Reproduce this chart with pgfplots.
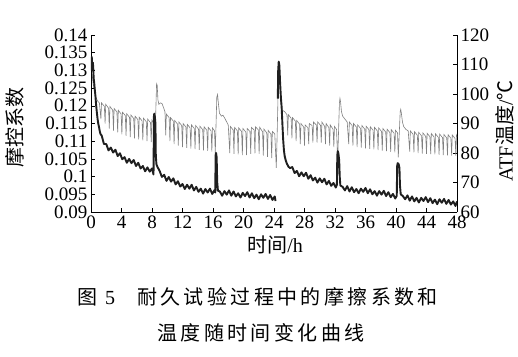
\documentclass[border=0pt]{standalone}
\usepackage{pgfplots}
\pgfplotsset{compat=1.18}
\usepackage{fontspec}
\setmainfont{Liberation Serif}
\newfontfamily\cjk{Noto Sans CJK SC}
\newfontfamily\cjkcap[LetterSpace=17]{Noto Sans CJK SC}
\begin{document}
\begin{tikzpicture}
\pgfplotsset{
  common/.style={
    scale only axis, width=366pt, height=177pt,
    xmin=0, xmax=48,
    /pgf/number format/assume math mode=true,
    tick label style={font=\fontsize{19}{19}\selectfont},
    label style={font=\fontsize{20}{20}\selectfont},
    axis line style={-, line width=0.7pt},
    tick style={black, line width=0.6pt},
    major tick length=4pt,
    tick align=inside,
  }
}
% temperature axis (right)
\begin{axis}[common,
  axis x line=none, axis y line*=right,
  ymin=60, ymax=120, ytick={60,70,...,120},
  ylabel={ATF{\cjk 温度}/{\cjk ℃}},
  ylabel style={at={(axis description cs:1.131,0.458)}, anchor=center},
]
\addplot[black!50, line width=0.6pt] coordinates {
(0.15,107) (0.25,104) (0.35,102.5) (0.5,100.5) (0.7,98.5) (0.9,97.5) (1.1,97)
(1.3,91.5) (1.38,97) (1.75,95.8)
(1.85,90) (1.93,96.5) (2.3,95.2)
(2.4,88.3) (2.48,95.8) (2.85,94.5)
(2.95,87.6) (3.03,95.1) (3.4,93.9)
(3.5,87) (3.58,94.5) (3.95,93.2)
(4.05,86.3) (4.13,93.8) (4.5,92.7)
(4.6,85.8) (4.68,93.3) (5.05,92.1)
(5.15,85.4) (5.23,92.9) (5.6,91.7)
(5.7,85) (5.78,92.5) (6.15,91.3)
(6.25,84.6) (6.33,92.1) (6.7,90.9)
(6.8,84.3) (6.88,91.8) (7.25,90.6)
(7.35,84) (7.43,91.5) (7.8,90.3)
(7.9,83.7) (7.98,91.2) (8.25,90)
(8.35,82) (8.45,90) (8.6,103.5) (8.68,103) (8.78,98) (8.9,96.5) (9.1,97) (9.3,96.8) (9.5,95.5) (9.7,94)
(9.8,86) (9.88,93.2) (10.25,92)
(10.35,84) (10.43,92) (10.8,90.8)
(10.9,83) (10.98,91) (11.35,89.8)
(11.45,82.5) (11.53,90.5) (11.9,89.3)
(12.0,82) (12.08,90) (12.45,88.8)
(12.55,81.7) (12.63,89.7) (13.0,88.5)
(13.1,81.5) (13.18,89.5) (13.55,88.3)
(13.65,81.3) (13.73,89.3) (14.1,88.1)
(14.2,81.1) (14.28,89.1) (14.65,87.9)
(14.75,80.9) (14.83,88.9) (15.2,87.7)
(15.3,80.7) (15.38,88.7) (15.75,87.5)
(15.85,80.5) (15.93,88.5) (16.2,87.5)
(16.3,80) (16.38,88) (16.5,99) (16.6,99.8) (16.7,97) (16.85,93.5) (17.1,92.5) (17.3,92.8) (17.5,92) (17.8,90.5) (18.0,89.5)
(18.2,80) (18.28,89) (18.65,87.8)
(18.75,79.7) (18.83,88.7) (19.2,87.5)
(19.3,79.5) (19.38,88.5) (19.75,87.3)
(19.85,79.3) (19.93,88.3) (20.3,87.1)
(20.4,79.3) (20.48,88.3) (20.85,87.3)
(20.95,79.7) (21.03,88.7) (21.4,87.8)
(21.5,79.9) (21.58,88.9) (21.95,87.8)
(22.05,79.7) (22.13,88.7) (22.5,87.2)
(22.6,79.1) (22.68,88.1) (23.05,86.8)
(23.15,78.7) (23.23,87.7) (23.6,86.4)
(23.7,78.3) (23.78,87.3) (24.1,86.5)
(24.3,75) (24.4,85) (24.5,96) (24.58,108) (24.65,109) (24.75,104) (24.9,97) (25.1,94.5) (25.4,94) (25.7,93)
(25.8,86) (25.88,93) (26.25,91.8)
(26.35,85) (26.43,92) (26.8,90.8)
(26.9,84) (26.98,91) (27.35,89.8)
(27.45,83) (27.53,90) (27.9,88.8)
(28.0,82.5) (28.08,89.5) (28.45,88.6)
(28.55,83) (28.63,90) (29.0,89.3)
(29.1,83.5) (29.18,90.5) (29.55,89.5)
(29.65,83.5) (29.73,90.5) (30.1,89.4)
(30.2,83.5) (30.28,90.5) (30.65,89)
(30.75,83) (30.83,90) (31.2,88.6)
(31.3,82.5) (31.38,89.5) (31.75,88)
(31.85,82) (31.93,89) (32.2,88)
(32.35,77.5) (32.45,86) (32.58,97) (32.65,98.5) (32.72,97.5) (32.85,94) (33.0,92.5) (33.3,91.5) (33.6,90.5)
(33.8,83) (33.88,90.5) (34.25,89.3)
(34.35,82.5) (34.43,90) (34.8,88.8)
(34.9,82) (34.98,89.5) (35.35,88.3)
(35.45,81.8) (35.53,89.3) (35.9,88.1)
(36.0,81.6) (36.08,89.1) (36.45,87.9)
(36.55,81.4) (36.63,88.9) (37.0,87.7)
(37.1,81.2) (37.18,88.7) (37.55,87.5)
(37.65,81) (37.73,88.5) (38.1,87.3)
(38.2,80.8) (38.28,88.3) (38.65,87.1)
(38.75,80.6) (38.83,88.1) (39.2,86.9)
(39.3,80.4) (39.38,87.9) (39.75,86.7)
(39.85,80.2) (39.93,87.7) (40.2,86.8)
(40.3,78.5) (40.4,85) (40.55,94) (40.62,94.8) (40.7,93.5) (40.85,90.5) (41.0,89) (41.3,88) (41.6,87.5)
(41.8,80.5) (41.88,87.5) (42.25,86.3)
(42.35,80.2) (42.43,87.2) (42.8,86)
(42.9,80) (42.98,87) (43.35,85.8)
(43.45,79.8) (43.53,86.8) (43.9,85.6)
(44.0,79.7) (44.08,86.7) (44.45,85.5)
(44.55,79.6) (44.63,86.6) (45.0,85.4)
(45.1,79.5) (45.18,86.5) (45.55,85.3)
(45.65,79.4) (45.73,86.4) (46.1,85.2)
(46.2,79.3) (46.28,86.3) (46.65,85.1)
(46.75,79.2) (46.83,86.2) (47.2,85)
(47.3,79.1) (47.38,86.1) (47.75,84.9)
(47.85,79) (47.93,86) (48,85.5)
};
\end{axis}
% friction axis (left)
\begin{axis}[common,
  axis x line*=bottom, axis y line*=left,
  ymin=0.09, ymax=0.14,
  ytick={0.09,0.095,0.1,0.105,0.11,0.115,0.12,0.125,0.13,0.135,0.14},
  yticklabels={0.09,0.095,0.1,0.105,0.11,0.115,0.12,0.125,0.13,0.135,0.14},
  xtick={0,4,...,48},
  xlabel={{\cjk 时间}/h},
  xlabel style={at={(axis description cs:0.503,-0.186)}, anchor=center},
  ylabel={\cjk 摩控系数},
  ylabel style={at={(axis description cs:-0.2077,0.475)}, anchor=center},
]
\addplot[black!88, line width=1.9pt, line join=round] coordinates {
(0,0.1300) (0.05,0.1325) (0.1,0.1338) (0.15,0.1318) (0.2,0.1300) (0.25,0.1322) (0.3,0.1305)
(0.35,0.1278) (0.42,0.1265) (0.5,0.1245) (0.58,0.1228) (0.66,0.1205) (0.75,0.1185)
(0.85,0.1165) (0.95,0.1150) (1.05,0.1140) (1.15,0.1128) (1.25,0.1120)
(1.4,0.1116) (1.7,0.1092) (2.0,0.1092) (2.3,0.1074) (2.6,0.1082) (2.9,0.1068)
(3.2,0.1076) (3.5,0.1058) (3.8,0.1066) (4.1,0.1049) (4.4,0.1055) (4.7,0.1039)
(5.0,0.1050) (5.3,0.1038) (5.6,0.1047) (5.9,0.1030) (6.2,0.1039) (6.5,0.1023)
(6.8,0.1030) (7.1,0.1015) (7.4,0.1026) (7.7,0.1014) (8.0,0.1023) (8.2,0.1006)
(8.25,0.1170) (8.3,0.1178) (8.38,0.1168) (8.45,0.1150) (8.5,0.1060) (8.58,0.1035) (8.7,0.1028)
(9.0,0.1016) (9.3,0.0999) (9.6,0.1005) (9.9,0.0988) (10.2,0.0999) (10.5,0.0986)
(10.8,0.0995) (11.1,0.0978) (11.4,0.0987) (11.7,0.0972) (12.0,0.0979) (12.3,0.0965)
(12.6,0.0977) (12.9,0.0966) (13.2,0.0977) (13.5,0.0961) (13.8,0.0971) (14.1,0.0957)
(14.4,0.0966) (14.7,0.0952) (15.0,0.0965) (15.3,0.0955) (15.6,0.0966) (15.9,0.0951)
(16.2,0.0962) (16.3,0.0955) (16.34,0.1060) (16.4,0.1067) (16.48,0.1055) (16.55,0.0985) (16.65,0.0960)
(16.9,0.0958) (17.2,0.0946) (17.5,0.0959) (17.8,0.0949) (18.1,0.0961) (18.4,0.0946)
(18.7,0.0958) (19.0,0.0944) (19.3,0.0953) (19.6,0.0941) (19.9,0.0954) (20.2,0.0945)
(20.5,0.0956) (20.8,0.0941) (21.1,0.0953) (21.4,0.0939) (21.7,0.0949) (22.0,0.0936)
(22.3,0.0950) (22.6,0.0940) (22.9,0.0951) (23.2,0.0937) (23.5,0.0948) (23.8,0.0934)
(24.1,0.0944) (24.2,0.0931)
};
\addplot[black!88, line width=1.9pt, line join=round] coordinates {
(24.5,0.1220) (24.55,0.1300) (24.62,0.1325) (24.7,0.1315) (24.8,0.1265) (24.9,0.1225)
(25.0,0.1197) (25.1,0.1150) (25.2,0.1105) (25.3,0.1075) (25.4,0.1058) (25.55,0.1045)
(25.7,0.1036) (25.9,0.1028) (26.1,0.1024)
(26.4,0.1027) (26.7,0.1010) (27.0,0.1016) (27.3,0.1001) (27.6,0.1012) (27.9,0.1001)
(28.2,0.1011) (28.5,0.0994) (28.8,0.1004) (29.1,0.0989) (29.4,0.0997) (29.7,0.0983)
(30.0,0.0995) (30.3,0.0984) (30.6,0.0994) (30.9,0.0978) (31.2,0.0988) (31.5,0.0974)
(31.8,0.0982) (32.1,0.0969) (32.25,0.0977)
(32.3,0.1060) (32.36,0.1072) (32.45,0.1065) (32.55,0.1045) (32.62,0.1000) (32.7,0.0975)
(33.0,0.0971) (33.3,0.0961) (33.6,0.0973) (33.9,0.0958) (34.2,0.0970) (34.5,0.0956)
(34.8,0.0965) (35.1,0.0953) (35.4,0.0966) (35.7,0.0957) (36.0,0.0968) (36.3,0.0953)
(36.6,0.0964) (36.9,0.0950) (37.2,0.0959) (37.5,0.0946) (37.8,0.0959) (38.1,0.0949)
(38.4,0.0960) (38.7,0.0945) (39.0,0.0956) (39.3,0.0942) (39.6,0.0951) (39.9,0.0938)
(40.1,0.0946)
(40.15,0.1030) (40.22,0.1038) (40.35,0.1035) (40.45,0.1025) (40.52,0.0975) (40.62,0.0950)
(40.9,0.0945) (41.2,0.0936) (41.5,0.0947) (41.8,0.0932) (42.1,0.0944) (42.4,0.0930)
(42.7,0.0940) (43.0,0.0927) (43.3,0.0940) (43.6,0.0931) (43.9,0.0942) (44.2,0.0928)
(44.5,0.0939) (44.8,0.0925) (45.1,0.0935) (45.4,0.0922) (45.7,0.0936) (46.0,0.0926)
(46.3,0.0937) (46.6,0.0923) (46.9,0.0934) (47.2,0.0921) (47.5,0.0930) (47.8,0.0917)
(48.0,0.0930)
};
\end{axis}
\node[anchor=west, inner sep=0pt, font=\fontsize{20}{20}\selectfont] at (-14pt,-85pt)
  {{\cjk 图}\hspace{8pt}5\hspace{22pt}{\cjkcap 耐久试验过程中的摩擦系数和}};
\node[anchor=west, inner sep=0pt, font=\fontsize{20}{20}\selectfont] at (66pt,-121pt)
  {{\cjkcap 温度随时间变化曲线}};
\path[use as bounding box] (-91pt,-144pt) rectangle (427pt,212pt);
\end{tikzpicture}
\end{document}
